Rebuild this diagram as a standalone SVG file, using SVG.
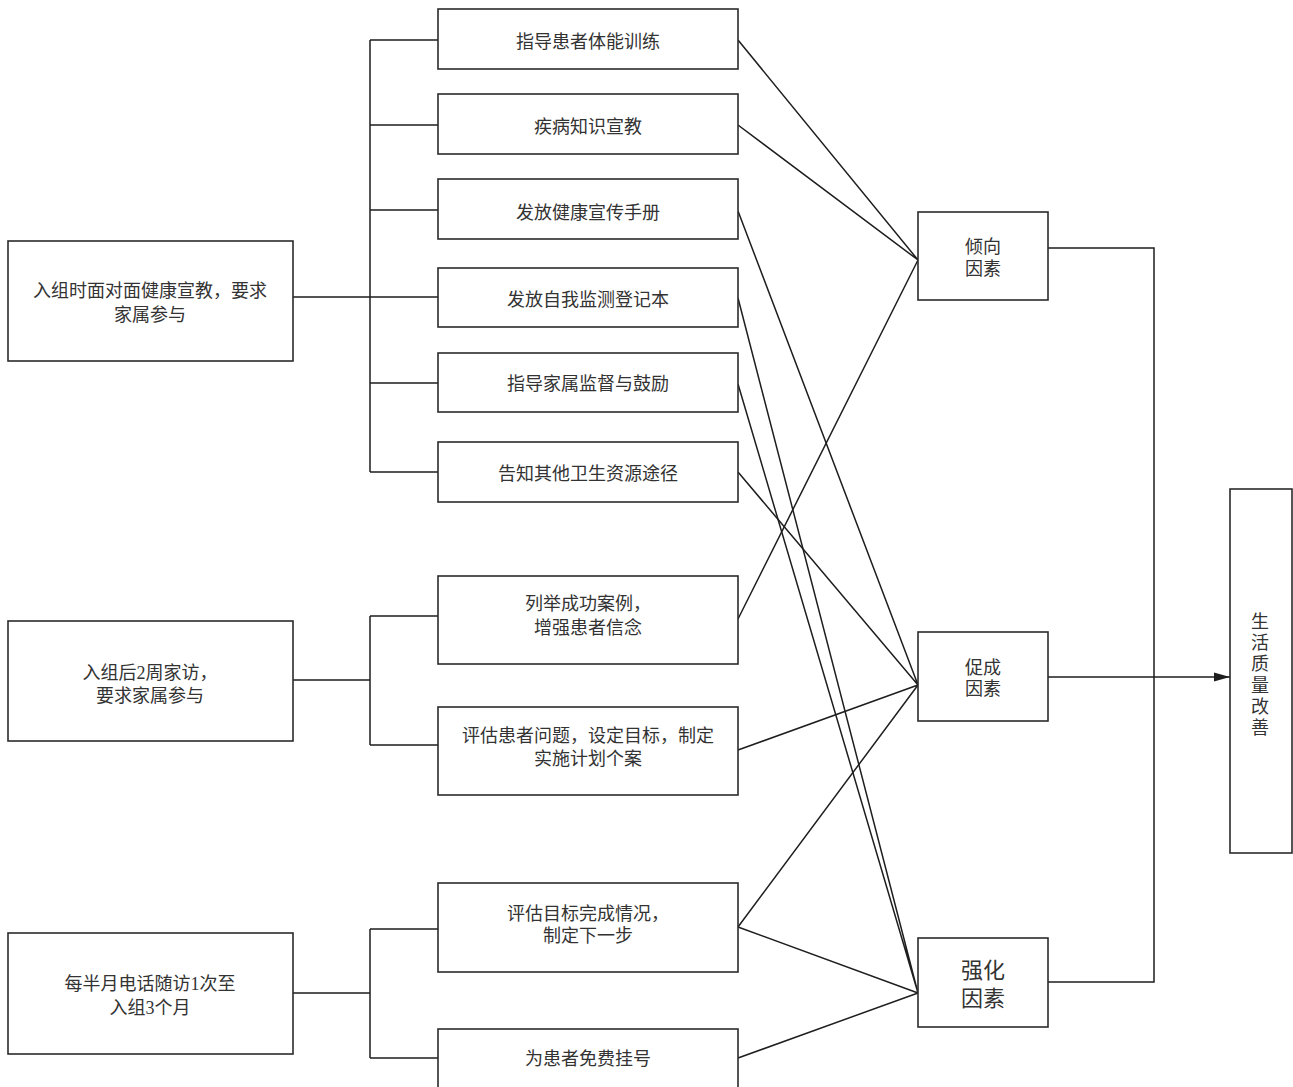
<svg xmlns="http://www.w3.org/2000/svg" width="1293" height="1087" viewBox="0 0 1293 1087">
<style>
.box{fill:#fff;stroke:#2b2b2b;stroke-width:1.6}
.t{font-family:"Liberation Serif","Noto Sans CJK SC",serif;font-size:18px;fill:#333;text-anchor:middle}
.big{font-size:22px}
.c{fill:none;stroke:#1e1e1e;stroke-width:1.5}
</style>
<defs>
<marker id="arr" viewBox="0 0 16 10" refX="16" refY="5" markerWidth="16" markerHeight="10" markerUnits="userSpaceOnUse" orient="auto">
<path d="M0,0.5 L16,5 L0,9.5 z" fill="#1e1e1e"/>
</marker>
</defs>
<rect width="1293" height="1087" fill="#fff"/>
<g id="connectors">
<path class="c" d="M293,297 H370 M370,40 V472 M370,40 H438 M370,125 H438 M370,210 H438 M370,297 H438 M370,383 H438 M370,472 H438"/>
<path class="c" d="M293,680 H370 M370,616 V745 M370,616 H438 M370,745 H438"/>
<path class="c" d="M293,993 H370 M370,929 V1058 M370,929 H438 M370,1058 H438"/>
<path class="c" d="M738,40 L918,260 M738,125 L918,260 M738,619 L918,260"/>
<path class="c" d="M738,211 L918,685 M738,472 L918,685 M738,750 L918,685 M738,927 L918,685"/>
<path class="c" d="M738,298 L918,993 M738,384 L918,993 M738,927 L918,993 M738,1058 L918,993"/>
<path class="c" d="M1048,248 H1154 V982 H1048"/>
<path class="c" d="M1048,677 H1230" marker-end="url(#arr)"/>
</g>
<g id="n1"><rect class="box" x="8" y="241" width="285" height="120"/><text class="t" x="150" y="297">入组时面对面健康宣教，要求</text><text class="t" x="150" y="321">家属参与</text></g>
<g id="n2"><rect class="box" x="8" y="621" width="285" height="120"/><text class="t" x="150" y="679">入组后2周家访，</text><text class="t" x="150" y="702">要求家属参与</text></g>
<g id="n3"><rect class="box" x="8" y="933" width="285" height="121"/><text class="t" x="150" y="990">每半月电话随访1次至</text><text class="t" x="150" y="1014">入组3个月</text></g>
<g id="m1"><rect class="box" x="438" y="9" width="300" height="60"/><text class="t" x="588" y="48">指导患者体能训练</text></g>
<g id="m2"><rect class="box" x="438" y="94" width="300" height="60"/><text class="t" x="588" y="133">疾病知识宣教</text></g>
<g id="m3"><rect class="box" x="438" y="179" width="300" height="60"/><text class="t" x="588" y="219">发放健康宣传手册</text></g>
<g id="m4"><rect class="box" x="438" y="268" width="300" height="59"/><text class="t" x="588" y="306">发放自我监测登记本</text></g>
<g id="m5"><rect class="box" x="438" y="353" width="300" height="59"/><text class="t" x="588" y="390">指导家属监督与鼓励</text></g>
<g id="m6"><rect class="box" x="438" y="442" width="300" height="60"/><text class="t" x="588" y="480">告知其他卫生资源途径</text></g>
<g id="m7"><rect class="box" x="438" y="576" width="300" height="88"/><text class="t" x="588" y="610">列举成功案例，</text><text class="t" x="588" y="634">增强患者信念</text></g>
<g id="m8"><rect class="box" x="438" y="707" width="300" height="88"/><text class="t" x="588" y="742">评估患者问题，设定目标，制定</text><text class="t" x="588" y="765">实施计划个案</text></g>
<g id="m9"><rect class="box" x="438" y="883" width="300" height="89"/><text class="t" x="588" y="920">评估目标完成情况，</text><text class="t" x="588" y="942">制定下一步</text></g>
<g id="m10"><rect class="box" x="438" y="1029" width="300" height="70"/><text class="t" x="588" y="1065">为患者免费挂号</text></g>
<g id="f1"><rect class="box" x="918" y="212" width="130" height="88"/><text class="t" x="983" y="253">倾向</text><text class="t" x="983" y="275">因素</text></g>
<g id="f2"><rect class="box" x="918" y="632" width="130" height="89"/><text class="t" x="983" y="674">促成</text><text class="t" x="983" y="695">因素</text></g>
<g id="f3"><rect class="box" x="918" y="938" width="130" height="89"/><text class="t big" x="983" y="978">强化</text><text class="t big" x="983" y="1006">因素</text></g>
<g id="r1"><rect class="box" x="1230" y="489" width="62" height="364"/>
<text class="t" x="1260" y="628">生</text><text class="t" x="1260" y="649">活</text><text class="t" x="1260" y="670">质</text><text class="t" x="1260" y="692">量</text><text class="t" x="1260" y="713">改</text><text class="t" x="1260" y="734">善</text></g>
</svg>
